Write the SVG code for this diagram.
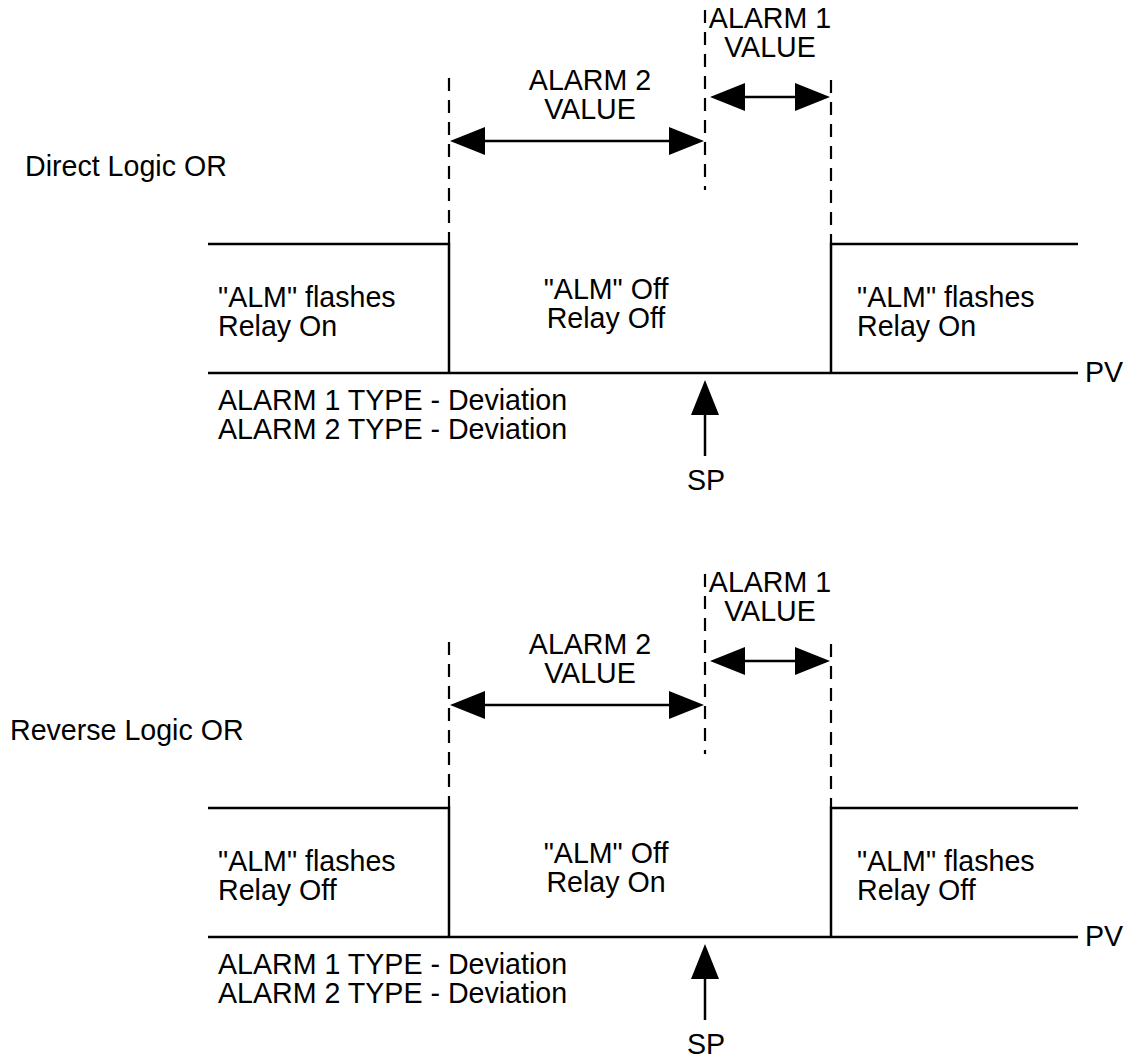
<svg xmlns="http://www.w3.org/2000/svg" width="1143" height="1059" viewBox="0 0 1143 1059">
<style>
text{font-family:"Liberation Sans",Arial,sans-serif;font-size:28.6px;fill:#000}
.c{text-anchor:middle}
.ln{stroke:#000;stroke-width:2.5;fill:none}
.dash{stroke:#000;stroke-width:2.2;fill:none;stroke-dasharray:13 9}
.ah{fill:#000}
</style>
<defs>
<g id="panel">
<g class="connectors">
<line class="dash" x1="449" y1="78" x2="449" y2="244"/>
<line class="dash" x1="705" y1="10" x2="705" y2="190"/>
<line class="dash" x1="831" y1="80" x2="831" y2="244"/>
<line class="ln" x1="470" y1="141" x2="684" y2="141"/>
<polygon class="ah" points="450,141 485,127 485,155"/>
<polygon class="ah" points="704,141 669,127 669,155"/>
<line class="ln" x1="730" y1="97" x2="810" y2="97"/>
<polygon class="ah" points="710,97 745,83 745,111"/>
<polygon class="ah" points="830,97 795,83 795,111"/>
<polyline class="ln" points="208,244 449,244 449,373"/>
<line class="ln" x1="208" y1="373" x2="1078" y2="373"/>
<polyline class="ln" points="831,373 831,244 1078,244"/>
<line class="ln" x1="705" y1="400" x2="705" y2="456"/>
<polygon class="ah" points="705,380 691,415 719,415"/>
</g>
<text class="c" x="590" y="90">ALARM 2</text>
<text class="c" x="590" y="119">VALUE</text>
<text class="c" x="770" y="28">ALARM 1</text>
<text class="c" x="770" y="57">VALUE</text>
<text x="1085" y="382">PV</text>
<text class="c" x="706" y="490">SP</text>
<text x="218" y="410">ALARM 1 TYPE - Deviation</text>
<text x="218" y="439">ALARM 2 TYPE - Deviation</text>
</g>
</defs>
<rect width="1143" height="1059" fill="#fff"/>
<g id="direct">
<use href="#panel"/>
<text x="25" y="176">Direct Logic OR</text>
<g id="direct-left"><text x="218" y="307">"ALM" flashes</text><text x="218" y="336">Relay On</text></g>
<g id="direct-mid"><text class="c" x="606" y="299">"ALM" Off</text><text class="c" x="606" y="328">Relay Off</text></g>
<g id="direct-right"><text x="857" y="307">"ALM" flashes</text><text x="857" y="336">Relay On</text></g>
</g>
<g id="reverse">
<use href="#panel" y="564"/>
<text x="10" y="740">Reverse Logic OR</text>
<g id="reverse-left"><text x="218" y="871">"ALM" flashes</text><text x="218" y="900">Relay Off</text></g>
<g id="reverse-mid"><text class="c" x="606" y="863">"ALM" Off</text><text class="c" x="606" y="892">Relay On</text></g>
<g id="reverse-right"><text x="857" y="871">"ALM" flashes</text><text x="857" y="900">Relay Off</text></g>
</g>
</svg>
